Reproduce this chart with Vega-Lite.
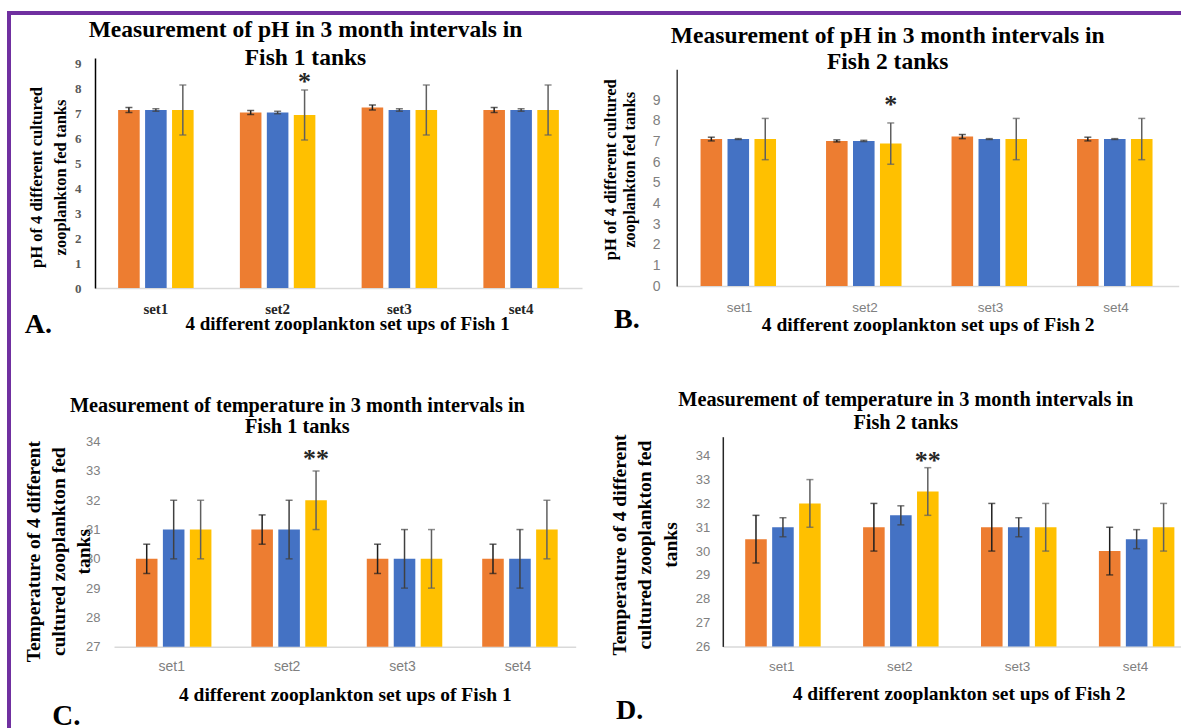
{
  "$schema": "https://vega.github.io/schema/vega-lite/v6.json",
  "background": "white",
  "padding": {"left": 7, "top": 11, "right": 0, "bottom": 0},
  "config": {
    "view": {"stroke": null},
    "axis": {"grid": false, "ticks": false, "tickSize": 0, "labelOverlap": false},
    "title": {"font": "Liberation Serif", "fontWeight": "bold", "color": "black"}
  },
  "columns": 1,
  "align": "none",
  "spacing": -725,
  "concat": [
    {
      "columns": 2,
      "align": "none",
      "spacing": -89,
      "concat": [
        {"width": 1, "height": 1, "data": {"values": []}, "mark": "point"},
        {"width": 1191, "height": 727, "data": {"values": []}, "mark": "point", "view": {"stroke": "#7030A0", "strokeWidth": 4, "fill": null}}
      ]
    },
    {
      "spacing": 50.7,
      "vconcat": [
        {
          "spacing": 20.7,
          "hconcat": [
            {
              "title": {"text": "A.", "orient": "bottom", "anchor": "start", "frame": "bounds", "fontSize": 28, "baseline": "alphabetic", "offset": -0.2, "dx": -4.1},
              "vconcat": [
                {
                  "width": 487, "height": 230,
                  "title": {"text": ["Measurement of pH in 3 month intervals in", "Fish 1 tanks"], "fontSize": 23.5, "lineHeight": 28, "offset": -12.5, "dx": -33, "anchor": "middle", "frame": "group"},
                  "data": {"values": [
                    {"set": "set1", "series": "s1", "value": 7.12, "lo": 7.02, "hi": 7.22},
                    {"set": "set1", "series": "s2", "value": 7.12, "lo": 7.07, "hi": 7.17},
                    {"set": "set1", "series": "s3", "value": 7.12, "lo": 6.12, "hi": 8.12},
                    {"set": "set2", "series": "s1", "value": 7.02, "lo": 6.94, "hi": 7.1},
                    {"set": "set2", "series": "s2", "value": 7.02, "lo": 6.97, "hi": 7.07},
                    {"set": "set2", "series": "s3", "value": 6.92, "lo": 5.92, "hi": 7.92},
                    {"set": "set3", "series": "s1", "value": 7.22, "lo": 7.12, "hi": 7.32},
                    {"set": "set3", "series": "s2", "value": 7.12, "lo": 7.07, "hi": 7.17},
                    {"set": "set3", "series": "s3", "value": 7.12, "lo": 6.12, "hi": 8.12},
                    {"set": "set4", "series": "s1", "value": 7.12, "lo": 7.02, "hi": 7.22},
                    {"set": "set4", "series": "s2", "value": 7.12, "lo": 7.07, "hi": 7.17},
                    {"set": "set4", "series": "s3", "value": 7.12, "lo": 6.12, "hi": 8.12}
                  ]},
                  "encoding": {
                    "x": {"field": "set", "type": "nominal", "scale": {"paddingInner": 0.38, "paddingOuter": 0.19},
                      "axis": {"title": "4 different zooplankton set ups of Fish 1", "titleFont": "Liberation Serif", "titleFontSize": 19, "titleFontWeight": "bold", "titleColor": "black", "titlePadding": -2, "titleX": 252, "labelAngle": 0, "labelFont": "Liberation Serif", "labelFontWeight": "bold", "labelFontSize": 15, "labelColor": "#262626", "labelPadding": 13, "domainColor": "#d9d9d9", "domainWidth": 1.5, "ticks": false}},
                    "xOffset": {"field": "series", "type": "nominal", "scale": {"paddingInner": 0.2, "paddingOuter": 0}}
                  },
                  "layer": [
                    {"mark": {"type": "bar"},
                      "encoding": {
                        "y": {"field": "value", "type": "quantitative", "scale": {"domain": [0, 9.2], "nice": false},
                          "axis": {"values": [0, 1, 2, 3, 4, 5, 6, 7, 8, 9], "labelOverlap": false, "title": ["pH of 4 different cultured", "zooplankton fed tanks"], "titleFont": "Liberation Serif", "titleFontSize": 16.5, "titleFontWeight": "bold", "titleColor": "black", "titleAngle": 270, "titleBaseline": "top", "titleAlign": "center", "titleX": -66.2, "titleY": 119, "titleLineHeight": 23.5, "labelFont": "Liberation Serif", "labelFontWeight": "bold", "labelFontSize": 13, "labelColor": "#595959", "labelPadding": 14, "domain": true, "domainColor": "black", "domainWidth": 1.5, "ticks": false}},
                        "fill": {"field": "series", "type": "nominal", "scale": {"domain": ["s1", "s2", "s3"], "range": ["#ED7D31", "#4472C4", "#FFC000"]}, "legend": null}
                      }},
                    {"mark": {"type": "rule", "strokeWidth": 1.5},
                      "encoding": {"y": {"field": "lo", "type": "quantitative", "axis": {"values": [0, 1, 2, 3, 4, 5, 6, 7, 8, 9]}}, "y2": {"field": "hi"},
                        "color": {"field": "series", "type": "nominal", "scale": {"domain": ["s1", "s2", "s3"], "range": ["#1f1f1f", "#404040", "#5f5f5f"]}, "legend": null}}},
                    {"mark": {"type": "tick", "thickness": 1.5, "size": 7},
                      "encoding": {"y": {"field": "lo", "type": "quantitative", "axis": {"values": [0, 1, 2, 3, 4, 5, 6, 7, 8, 9]}}, "color": {"field": "series", "type": "nominal", "legend": null}}},
                    {"mark": {"type": "tick", "thickness": 1.5, "size": 7},
                      "encoding": {"y": {"field": "hi", "type": "quantitative", "axis": {"values": [0, 1, 2, 3, 4, 5, 6, 7, 8, 9]}}, "color": {"field": "series", "type": "nominal", "legend": null}}},
                    {"data": {"values": [{"set": "set2", "series": "s3", "pos": 8.25, "label": "*"}]},
                      "mark": {"type": "text", "font": "Liberation Serif", "fontWeight": "bold", "fontSize": 26, "baseline": "middle", "color": "#262626"},
                      "encoding": {"y": {"field": "pos", "type": "quantitative", "axis": {"values": [0, 1, 2, 3, 4, 5, 6, 7, 8, 9]}}, "text": {"field": "label"}}}
                  ]
                }
              ]
            },
            {
              "title": {"text": "B.", "orient": "bottom", "anchor": "start", "frame": "bounds", "fontSize": 28, "baseline": "alphabetic", "offset": -5.8, "dx": 11.2},
              "spacing": -35.7,
              "vconcat": [
                {"width": 1, "height": 1, "data": {"values": []}, "mark": "point"},
                {
                  "width": 502, "height": 216.7,
                  "title": {"text": ["Measurement of pH in 3 month intervals in", "Fish 2 tanks"], "fontSize": 23.5, "lineHeight": 26.6, "offset": -4.5, "dx": -40, "anchor": "middle", "frame": "group"},
                  "data": {"values": [
                    {"set": "set1", "series": "s1", "value": 7.12, "lo": 7.03, "hi": 7.21},
                    {"set": "set1", "series": "s2", "value": 7.12, "lo": 7.1, "hi": 7.14},
                    {"set": "set1", "series": "s3", "value": 7.12, "lo": 6.12, "hi": 8.12},
                    {"set": "set2", "series": "s1", "value": 7.03, "lo": 6.98, "hi": 7.08},
                    {"set": "set2", "series": "s2", "value": 7.03, "lo": 7.0, "hi": 7.06},
                    {"set": "set2", "series": "s3", "value": 6.9, "lo": 5.9, "hi": 7.9},
                    {"set": "set3", "series": "s1", "value": 7.24, "lo": 7.14, "hi": 7.34},
                    {"set": "set3", "series": "s2", "value": 7.12, "lo": 7.1, "hi": 7.14},
                    {"set": "set3", "series": "s3", "value": 7.12, "lo": 6.12, "hi": 8.12},
                    {"set": "set4", "series": "s1", "value": 7.12, "lo": 7.03, "hi": 7.21},
                    {"set": "set4", "series": "s2", "value": 7.12, "lo": 7.1, "hi": 7.14},
                    {"set": "set4", "series": "s3", "value": 7.12, "lo": 6.12, "hi": 8.12}
                  ]},
                  "encoding": {
                    "x": {"field": "set", "type": "nominal", "scale": {"paddingInner": 0.38, "paddingOuter": 0.19},
                      "axis": {"title": "4 different zooplankton set ups of Fish 2", "titleFont": "Liberation Serif", "titleFontSize": 19.5, "titleFontWeight": "bold", "titleColor": "black", "titlePadding": 1.8, "labelAngle": 0, "labelFont": "Liberation Sans", "labelFontSize": 13.5, "labelColor": "#808080", "labelPadding": 14.3, "domainColor": "#d9d9d9", "domainWidth": 1.5, "ticks": false}},
                    "xOffset": {"field": "series", "type": "nominal", "scale": {"paddingInner": 0.2, "paddingOuter": 0}}
                  },
                  "layer": [
                    {"mark": {"type": "bar"},
                      "encoding": {
                        "y": {"field": "value", "type": "quantitative", "scale": {"domain": [0, 10.5], "nice": false},
                          "axis": {"values": [0, 1, 2, 3, 4, 5, 6, 7, 8, 9], "labelOverlap": false, "title": ["pH of 4 different cultured", "zooplankton fed tanks"], "titleFont": "Liberation Serif", "titleFontSize": 16.5, "titleFontWeight": "bold", "titleColor": "black", "titleAngle": 270, "titleBaseline": "top", "titleAlign": "center", "titleX": -73.8, "titleY": 100, "titleLineHeight": 18.5, "labelFont": "Liberation Sans", "labelFontSize": 14, "labelColor": "#808080", "labelPadding": 16.7, "domain": true, "domainColor": "#404040", "domainWidth": 1.5, "ticks": false}},
                        "fill": {"field": "series", "type": "nominal", "scale": {"domain": ["s1", "s2", "s3"], "range": ["#ED7D31", "#4472C4", "#FFC000"]}, "legend": null}
                      }},
                    {"mark": {"type": "rule", "strokeWidth": 1.5},
                      "encoding": {"y": {"field": "lo", "type": "quantitative", "axis": {"values": [0, 1, 2, 3, 4, 5, 6, 7, 8, 9]}}, "y2": {"field": "hi"},
                        "color": {"field": "series", "type": "nominal", "scale": {"domain": ["s1", "s2", "s3"], "range": ["#1f1f1f", "#404040", "#5f5f5f"]}, "legend": null}}},
                    {"mark": {"type": "tick", "thickness": 1.5, "size": 7},
                      "encoding": {"y": {"field": "lo", "type": "quantitative", "axis": {"values": [0, 1, 2, 3, 4, 5, 6, 7, 8, 9]}}, "color": {"field": "series", "type": "nominal", "legend": null}}},
                    {"mark": {"type": "tick", "thickness": 1.5, "size": 7},
                      "encoding": {"y": {"field": "hi", "type": "quantitative", "axis": {"values": [0, 1, 2, 3, 4, 5, 6, 7, 8, 9]}}, "color": {"field": "series", "type": "nominal", "legend": null}}},
                    {"data": {"values": [{"set": "set2", "series": "s3", "pos": 8.79, "label": "*"}]},
                      "mark": {"type": "text", "font": "Liberation Serif", "fontWeight": "bold", "fontSize": 26, "baseline": "middle", "color": "#262626"},
                      "encoding": {"y": {"field": "pos", "type": "quantitative", "axis": {"values": [0, 1, 2, 3, 4, 5, 6, 7, 8, 9]}}, "text": {"field": "label"}}}
                  ]
                }
              ]
            }
          ]
        },
        {
          "spacing": 32.8,
          "hconcat": [
            {
              "title": {"text": "C.", "orient": "bottom", "anchor": "start", "frame": "bounds", "fontSize": 29, "baseline": "alphabetic", "offset": 20.9, "dx": 29.2},
              "spacing": -43,
              "vconcat": [
                {"width": 1, "height": 1, "data": {"values": []}, "mark": "point"},
                {
                  "spacing": -73,
                  "hconcat": [
                    {"width": 1, "height": 1, "data": {"values": []}, "mark": "point"},
                    {
                      "width": 461.7, "height": 205,
                      "title": {"text": ["Measurement of temperature in 3 month intervals in", "Fish 1 tanks"], "fontSize": 20.3, "lineHeight": 21.7, "offset": -1.9, "dx": -47.5, "anchor": "middle", "frame": "group"},
                      "data": {"values": [
                        {"set": "set1", "series": "s1", "value": 30, "lo": 29.5, "hi": 30.5},
                        {"set": "set1", "series": "s2", "value": 31, "lo": 30, "hi": 32},
                        {"set": "set1", "series": "s3", "value": 31, "lo": 30, "hi": 32},
                        {"set": "set2", "series": "s1", "value": 31, "lo": 30.5, "hi": 31.5},
                        {"set": "set2", "series": "s2", "value": 31, "lo": 30, "hi": 32},
                        {"set": "set2", "series": "s3", "value": 32, "lo": 31, "hi": 33},
                        {"set": "set3", "series": "s1", "value": 30, "lo": 29.5, "hi": 30.5},
                        {"set": "set3", "series": "s2", "value": 30, "lo": 29, "hi": 31},
                        {"set": "set3", "series": "s3", "value": 30, "lo": 29, "hi": 31},
                        {"set": "set4", "series": "s1", "value": 30, "lo": 29.5, "hi": 30.5},
                        {"set": "set4", "series": "s2", "value": 30, "lo": 29, "hi": 31},
                        {"set": "set4", "series": "s3", "value": 31, "lo": 30, "hi": 32}
                      ]},
                      "encoding": {
                        "x": {"field": "set", "type": "nominal", "scale": {"paddingInner": 0.38, "paddingOuter": 0.19},
                          "axis": {"title": "4 different zooplankton set ups of Fish 1", "titleFont": "Liberation Serif", "titleFontSize": 19.5, "titleFontWeight": "bold", "titleColor": "black", "titlePadding": 11.7, "labelAngle": 0, "labelFont": "Liberation Sans", "labelFontSize": 14, "labelColor": "#808080", "labelPadding": 12.9, "domainColor": "#d9d9d9", "domainWidth": 1.5, "ticks": false}},
                        "xOffset": {"field": "series", "type": "nominal", "scale": {"paddingInner": 0.2, "paddingOuter": 0}}
                      },
                      "layer": [
                        {"mark": {"type": "bar", "clip": true},
                          "encoding": {
                            "y": {"field": "value", "type": "quantitative", "scale": {"domain": [27, 34], "zero": false, "nice": false},
                              "axis": {"values": [27, 28, 29, 30, 31, 32, 33, 34], "labelOverlap": false, "title": ["Temperature of 4 different", "cultured zooplankton fed", "tanks"], "titleFont": "Liberation Serif", "titleFontSize": 19.5, "titleFontWeight": "bold", "titleColor": "black", "titleAngle": 270, "titleBaseline": "top", "titleAlign": "center", "titleX": -90, "titleY": 109.5, "titleLineHeight": 25.4, "labelFont": "Liberation Sans", "labelFontSize": 13, "labelColor": "#808080", "labelPadding": 14, "domain": false, "ticks": false}},
                            "fill": {"field": "series", "type": "nominal", "scale": {"domain": ["s1", "s2", "s3"], "range": ["#ED7D31", "#4472C4", "#FFC000"]}, "legend": null}
                          }},
                        {"mark": {"type": "rule", "strokeWidth": 1.5},
                          "encoding": {"y": {"field": "lo", "type": "quantitative", "axis": {"values": [27, 28, 29, 30, 31, 32, 33, 34]}}, "y2": {"field": "hi"},
                            "color": {"field": "series", "type": "nominal", "scale": {"domain": ["s1", "s2", "s3"], "range": ["#1f1f1f", "#404040", "#5f5f5f"]}, "legend": null}}},
                        {"mark": {"type": "tick", "thickness": 1.5, "size": 7},
                          "encoding": {"y": {"field": "lo", "type": "quantitative", "axis": {"values": [27, 28, 29, 30, 31, 32, 33, 34]}}, "color": {"field": "series", "type": "nominal", "legend": null}}},
                        {"mark": {"type": "tick", "thickness": 1.5, "size": 7},
                          "encoding": {"y": {"field": "hi", "type": "quantitative", "axis": {"values": [27, 28, 29, 30, 31, 32, 33, 34]}}, "color": {"field": "series", "type": "nominal", "legend": null}}},
                        {"data": {"values": [{"set": "set2", "series": "s3", "pos": 33.4, "label": "**"}]},
                          "mark": {"type": "text", "font": "Liberation Serif", "fontWeight": "bold", "fontSize": 26, "baseline": "middle", "color": "#262626"},
                          "encoding": {"y": {"field": "pos", "type": "quantitative", "axis": {"values": [27, 28, 29, 30, 31, 32, 33, 34]}}, "text": {"field": "label"}}}
                      ]
                    }
                  ]
                }
              ]
            },
            {
              "title": {"text": "D.", "orient": "bottom", "anchor": "start", "frame": "bounds", "fontSize": 28, "baseline": "alphabetic", "offset": 16.7, "dx": 6.9},
              "vconcat": [
                {
                  "width": 471.6, "height": 209.7,
                  "title": {"text": ["Measurement of temperature in 3 month intervals in", "Fish 2 tanks"], "fontSize": 20.3, "lineHeight": 22.7, "offset": 0.65, "dx": -52.8, "anchor": "middle", "frame": "group"},
                  "data": {"values": [
                    {"set": "set1", "series": "s1", "value": 30.5, "lo": 29.5, "hi": 31.5},
                    {"set": "set1", "series": "s2", "value": 31, "lo": 30.6, "hi": 31.4},
                    {"set": "set1", "series": "s3", "value": 32, "lo": 31, "hi": 33},
                    {"set": "set2", "series": "s1", "value": 31, "lo": 30, "hi": 32},
                    {"set": "set2", "series": "s2", "value": 31.5, "lo": 31.1, "hi": 31.9},
                    {"set": "set2", "series": "s3", "value": 32.5, "lo": 31.5, "hi": 33.5},
                    {"set": "set3", "series": "s1", "value": 31, "lo": 30, "hi": 32},
                    {"set": "set3", "series": "s2", "value": 31, "lo": 30.6, "hi": 31.4},
                    {"set": "set3", "series": "s3", "value": 31, "lo": 30, "hi": 32},
                    {"set": "set4", "series": "s1", "value": 30, "lo": 29, "hi": 31},
                    {"set": "set4", "series": "s2", "value": 30.5, "lo": 30.1, "hi": 30.9},
                    {"set": "set4", "series": "s3", "value": 31, "lo": 30, "hi": 32}
                  ]},
                  "encoding": {
                    "x": {"field": "set", "type": "nominal", "scale": {"paddingInner": 0.38, "paddingOuter": 0.19},
                      "axis": {"title": "4 different zooplankton set ups of Fish 2", "titleFont": "Liberation Serif", "titleFontSize": 19.5, "titleFontWeight": "bold", "titleColor": "black", "titlePadding": 11, "labelAngle": 0, "labelFont": "Liberation Sans", "labelFontSize": 13.5, "labelColor": "#808080", "labelPadding": 13.3, "domainColor": "#d9d9d9", "domainWidth": 1.5, "ticks": false}},
                    "xOffset": {"field": "series", "type": "nominal", "scale": {"paddingInner": 0.2, "paddingOuter": 0}}
                  },
                  "layer": [
                    {"mark": {"type": "bar", "clip": true},
                      "encoding": {
                        "y": {"field": "value", "type": "quantitative", "scale": {"domain": [26, 34.8], "zero": false, "nice": false},
                          "axis": {"values": [26, 27, 28, 29, 30, 31, 32, 33, 34], "labelOverlap": false, "title": ["Temperature of 4 different", "cultured zooplankton fed", "tanks"], "titleFont": "Liberation Serif", "titleFontSize": 19.5, "titleFontWeight": "bold", "titleColor": "black", "titleAngle": 270, "titleBaseline": "top", "titleAlign": "center", "titleX": -112.6, "titleY": 107.8, "titleLineHeight": 25.5, "labelFont": "Liberation Sans", "labelFontSize": 13, "labelColor": "#808080", "labelPadding": 13, "domain": true, "domainColor": "#262626", "domainWidth": 1.5, "ticks": false}},
                        "fill": {"field": "series", "type": "nominal", "scale": {"domain": ["s1", "s2", "s3"], "range": ["#ED7D31", "#4472C4", "#FFC000"]}, "legend": null}
                      }},
                    {"mark": {"type": "rule", "strokeWidth": 1.5},
                      "encoding": {"y": {"field": "lo", "type": "quantitative", "axis": {"values": [26, 27, 28, 29, 30, 31, 32, 33, 34]}}, "y2": {"field": "hi"},
                        "color": {"field": "series", "type": "nominal", "scale": {"domain": ["s1", "s2", "s3"], "range": ["#1f1f1f", "#404040", "#5f5f5f"]}, "legend": null}}},
                    {"mark": {"type": "tick", "thickness": 1.5, "size": 7},
                      "encoding": {"y": {"field": "lo", "type": "quantitative", "axis": {"values": [26, 27, 28, 29, 30, 31, 32, 33, 34]}}, "color": {"field": "series", "type": "nominal", "legend": null}}},
                    {"mark": {"type": "tick", "thickness": 1.5, "size": 7},
                      "encoding": {"y": {"field": "hi", "type": "quantitative", "axis": {"values": [26, 27, 28, 29, 30, 31, 32, 33, 34]}}, "color": {"field": "series", "type": "nominal", "legend": null}}},
                    {"data": {"values": [{"set": "set2", "series": "s3", "pos": 33.8, "label": "**"}]},
                      "mark": {"type": "text", "font": "Liberation Serif", "fontWeight": "bold", "fontSize": 26, "baseline": "middle", "color": "#262626"},
                      "encoding": {"y": {"field": "pos", "type": "quantitative", "axis": {"values": [26, 27, 28, 29, 30, 31, 32, 33, 34]}}, "text": {"field": "label"}}}
                  ]
                }
              ]
            }
          ]
        }
      ]
    }
  ]
}
